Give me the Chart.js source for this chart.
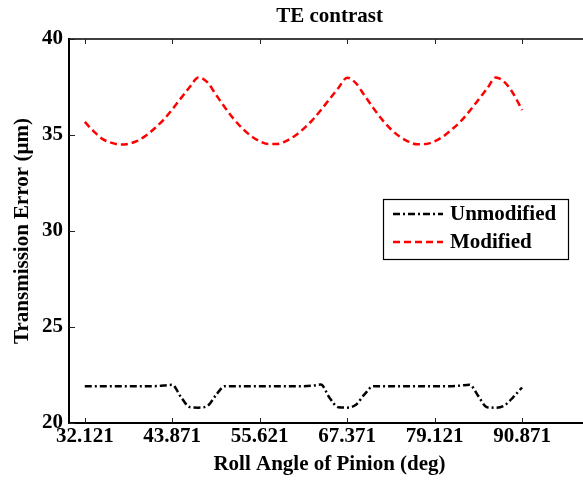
<!DOCTYPE html>
<html>
<head>
<meta charset="utf-8">
<title>TE contrast</title>
<script src="https://cdn.jsdelivr.net/npm/chart.js@4"></script>
<style>
    html, body { margin: 0; padding: 0; overflow: hidden; background: #fff; }
    .teChart { width: 600px; height: 480px; }
</style>
</head>
<body>
<div class="teChart">
    <canvas id="teContrastChart"></canvas>
</div>
<script>
const rollAngles = [
    32.121, 33.296, 34.471, 35.646, 36.821, 37.996, 39.171, 40.346, 41.521, 42.696,
    43.871, 45.046, 46.221, 47.396, 48.571, 49.746, 50.921, 52.096, 53.271, 54.446,
    55.621, 56.796, 57.971, 59.146, 60.321, 61.496, 62.671, 63.846, 65.021, 66.196,
    67.371, 68.546, 69.721, 70.896, 72.071, 73.246, 74.421, 75.596, 76.771, 77.946,
    79.121, 80.296, 81.471, 82.646, 83.821, 84.996, 86.171, 87.346, 88.521, 89.696,
    90.871
];
const unmodifiedTE = [
    21.92, 21.92, 21.92, 21.92, 21.92, 21.92, 21.92, 21.92, 21.92, 21.95,
    21.99, 21.35, 20.83, 20.80, 20.88, 21.45, 21.92, 21.92, 21.92, 21.92,
    21.92, 21.92, 21.92, 21.92, 21.92, 21.92, 21.94, 22.00, 21.30, 20.82,
    20.80, 20.95, 21.50, 21.92, 21.92, 21.92, 21.92, 21.92, 21.92, 21.92,
    21.92, 21.92, 21.92, 21.95, 21.99, 21.40, 20.82, 20.80, 20.92, 21.35,
    21.85
];
const modifiedTE = [
    35.68, 35.20, 34.80, 34.60, 34.50, 34.54, 34.69, 34.97, 35.35, 35.79,
    36.33, 36.92, 37.50, 38.00, 37.75, 37.10, 36.45, 35.85, 35.35, 34.95,
    34.68, 34.53, 34.53, 34.68, 34.95, 35.32, 35.76, 36.30, 36.88, 37.45,
    37.98, 37.70, 37.05, 36.40, 35.80, 35.30, 34.92, 34.66, 34.52, 34.53,
    34.67, 34.93, 35.30, 35.72, 36.25, 36.83, 37.42, 38.00, 37.75, 37.15,
    36.30
];
const xTicks = [32.121, 43.871, 55.621, 67.371, 79.121, 90.871];
const yTicks = [20, 25, 30, 35, 40];
const seriesNames = ["Unmodified", "Modified"];

const serif = '"Liberation Serif", "Times New Roman", serif';
const unmodDash = [7, 3, 2, 3];
const modDash = [7, 4];

function toPoints(values) {
    return values.map((v, i) => ({x: rollAngles[i], y: v}));
}

// MATLAB style box: inward ticks on all four sides + top/right border
const boxAndTicks = {
    id: 'boxAndTicks',
    afterDraw(chart) {
        const {ctx, chartArea: a, scales: {x, y}} = chart;
        ctx.save();
        ctx.strokeStyle = '#000';
        ctx.lineWidth = 1.3;
        ctx.beginPath();
        ctx.moveTo(a.left, a.top);
        ctx.lineTo(a.right, a.top);
        ctx.lineTo(a.right, a.bottom);
        ctx.stroke();

        ctx.lineWidth = 1;
        ctx.strokeStyle = '#222';
        ctx.beginPath();
        xTicks.forEach(t => {
            const px = Math.round(x.getPixelForValue(t)) + 0.5;
            ctx.moveTo(px, a.bottom);
            ctx.lineTo(px, a.bottom - 5);
            ctx.moveTo(px, a.top);
            ctx.lineTo(px, a.top + 5);
        });
        yTicks.forEach(t => {
            const py = Math.round(y.getPixelForValue(t)) + 0.5;
            ctx.moveTo(a.left, py);
            ctx.lineTo(a.left + 6, py);
            ctx.moveTo(a.right, py);
            ctx.lineTo(a.right - 6, py);
        });
        ctx.stroke();

        // legend box
        const lx = 383, ly = 199, lw = 185, lh = 60;
        ctx.fillStyle = '#fff';
        ctx.fillRect(lx, ly, lw, lh);
        ctx.strokeStyle = '#000';
        ctx.lineWidth = 1.2;
        ctx.strokeRect(lx + 0.5, ly + 0.5, lw, lh);
        ctx.font = 'bold 21px ' + serif;
        ctx.textBaseline = 'middle';
        ctx.textAlign = 'left';
        chart.data.datasets.forEach((ds, i) => {
            const rowY = ly + 15 + i * 28;
            ctx.save();
            ctx.strokeStyle = ds.borderColor;
            ctx.lineWidth = ds.borderWidth;
            ctx.setLineDash(ds.borderDash);
            ctx.beginPath();
            ctx.moveTo(lx + 10, rowY);
            ctx.lineTo(lx + 60, rowY);
            ctx.stroke();
            ctx.restore();
            ctx.fillStyle = '#000';
            ctx.fillText(ds.label, lx + 67, rowY + 1);
        });
        ctx.restore();
    }
};

new Chart(document.getElementById('teContrastChart'), {
    type: 'line',
    data: {
        datasets: [
            {
                label: seriesNames[0],
                data: toPoints(unmodifiedTE),
                borderColor: '#000000',
                borderWidth: 2.5,
                borderDash: unmodDash,
                pointRadius: 0,
                fill: false,
                cubicInterpolationMode: 'monotone'
            },
            {
                label: seriesNames[1],
                data: toPoints(modifiedTE),
                borderColor: '#ff0000',
                borderWidth: 2.5,
                borderDash: modDash,
                pointRadius: 0,
                fill: false,
                cubicInterpolationMode: 'monotone'
            }
        ]
    },
    options: {
        responsive: true,
        maintainAspectRatio: false,
        animation: false,
        devicePixelRatio: 1,
        layout: {padding: {top: 0, right: 10, bottom: 0, left: 0}},
        scales: {
            x: {
                type: 'linear',
                min: 30,
                max: 100,
                afterBuildTicks: (scale) => {
                    scale.ticks = xTicks.map(v => ({value: v}));
                },
                afterFit: (scale) => { scale.height = 57; },
                ticks: {
                    autoSkip: false,
                    maxRotation: 0,
                    padding: 1,
                    color: '#000',
                    font: {family: serif, size: 21, weight: 'bold'},
                    callback: (v) => v.toFixed(3)
                },
                grid: {display: false, drawTicks: false},
                border: {display: true, color: '#000', width: 2},
                title: {
                    display: true,
                    text: 'Roll Angle of Pinion (deg)',
                    color: '#000',
                    font: {family: serif, size: 21, weight: 'bold'},
                    padding: {top: 0, bottom: 2.4}
                }
            },
            y: {
                min: 20,
                max: 40,
                afterBuildTicks: (scale) => {
                    scale.ticks = yTicks.map(v => ({value: v}));
                },
                afterFit: (scale) => { scale.width = 69; },
                ticks: {
                    padding: 6,
                    color: '#000',
                    font: {family: serif, size: 21, weight: 'bold'}
                },
                grid: {display: false, drawTicks: false},
                border: {display: true, color: '#000', width: 2},
                title: {
                    display: true,
                    text: 'Transmission Error (\u00b5m)',
                    color: '#000',
                    font: {family: serif, size: 21, weight: 'bold'},
                    padding: {top: 10, bottom: 0}
                }
            }
        },
        plugins: {
            legend: {display: false},
            tooltip: {enabled: false},
            title: {
                display: true,
                fullSize: false,
                text: 'TE contrast',
                color: '#000',
                font: {family: serif, size: 21, weight: 'bold'},
                padding: {top: 4.4, bottom: 9.4}
            }
        }
    },
    plugins: [boxAndTicks]
});
</script>
</body>
</html>
